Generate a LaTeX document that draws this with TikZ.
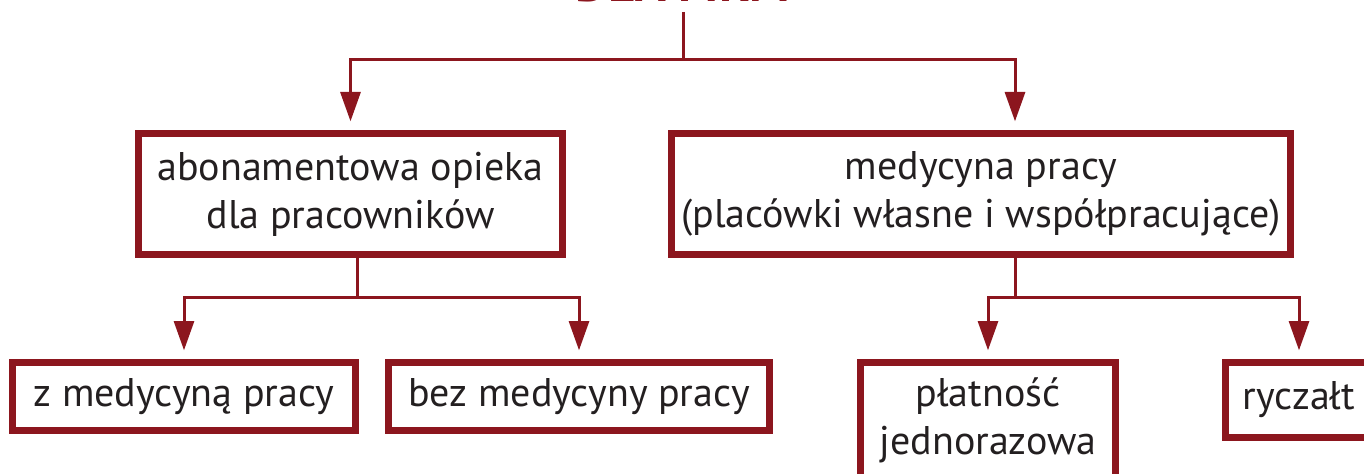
\documentclass[tikz,border=0pt]{standalone}
\usepackage{fontspec}
\setmainfont{PT Sans}
\usetikzlibrary{arrows.meta}
\definecolor{firmred}{RGB}{140,22,30}
\definecolor{ink}{RGB}{35,31,32}

\begin{document}
\begin{tikzpicture}[
		x=0.75pt, y=-0.75pt,
		every node/.style = {font=\fontsize{30}{36}\selectfont, text=ink},
		box/.style = {
			shape=rectangle, draw=firmred, line width=5.25pt,
			align=center, inner sep=0pt},
		link/.style = {draw=firmred, line width=2.25pt},
		arrow/.style = {link, -{Triangle[length=22pt,width=15pt]}, shorten >=6.5pt}]
		\useasboundingbox (0,0) rectangle (1364,474);
		\clip (0,0) rectangle (1364,474);
		\node[anchor=base, text=firmred, font=\fontsize{38}{46}\bfseries] (title) at (683,2) {DLA FIRM};
		\node[box, minimum width=318pt, minimum height=90.75pt] (opieka) at (350.5,194) {abonamentowa opieka\\dla pracowników};
		\node[box, minimum width=464.25pt, minimum height=90.75pt] (medpracy) at (981,194) {medycyna pracy\\(placówki własne i współpracujące)};
		\node[box, minimum width=257.25pt, minimum height=51pt] (zmed) at (184,396.5) {z medycyną pracy};
		\node[box, minimum width=285.75pt, minimum height=51pt] (bezmed) at (579,396.5) {bez medycyny pracy};
		\node[box, minimum width=191.25pt, minimum height=87pt] (jednoraz) at (988,420.5) {płatność\\jednorazowa};
		\node[box, minimum width=110.25pt, minimum height=56.25pt] (ryczalt) at (1299,400) {ryczałt};
		% rozgałęzienia
		\coordinate (ttop) at (683,12);
		\coordinate (tsplit) at (683,60);
		\coordinate (osplit) at (357,297);
		\coordinate (msplit) at (1015,297);
		\draw[link] (ttop) -- (tsplit);
		\draw[arrow] (tsplit) -| (opieka.north);
		\draw[arrow] (tsplit) -| ([xshift=25.5pt]medpracy.north);
		\draw[link] (osplit |- opieka.south) -- (osplit);
		\draw[arrow] (osplit) -| (zmed.north);
		\draw[arrow] (osplit) -| (bezmed.north);
		\draw[link] (msplit |- medpracy.south) -- (msplit);
		\draw[arrow] (msplit) -| (jednoraz.north);
		\draw[arrow] (msplit) -| (ryczalt.north);
	\end{tikzpicture}
\end{document}
